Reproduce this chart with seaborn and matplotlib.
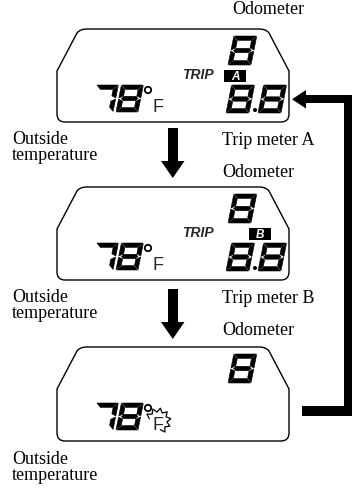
import matplotlib
matplotlib.use('Agg')
import matplotlib.pyplot as plt
import seaborn as sns
import numpy as np
from matplotlib.patches import Polygon, Rectangle, PathPatch, Circle
from matplotlib.path import Path

# diagram content
panel_tops = [29, 187, 347]
panel_bottoms = [122, 280, 441]
trip_letters = ['A', 'B', None]
temp_digits = ['7', '8']
odo_digits = ['8']
trip_digits = ['8', '8']
top_labels = ['Odometer', 'Odometer', 'Odometer']
top_label_y = [10, 172, 330]
trip_labels = ['Trip meter A', 'Trip meter B']
trip_label_y = [140, 298]
temp_label = 'Outside\ntemperature'
temp_label_y = [131, 289, 451]

SEGMENTS = {'8': 'abcdefg', '7': 'abc'}

sns.set_style('white')
fig = plt.figure(figsize=(3.52, 4.94), dpi=100)
ax = fig.add_axes([0, 0, 1, 1])
ax.set_xlim(0, 352)
ax.set_ylim(494, 0)
ax.axis('off')


def draw_digit(ch, x, y, w, h, t=4.4, gap=0.5, slant=0.2):
    hh = t / 2
    m = h / 2
    segs = {
        'a': [(gap, h), (w - gap, h), (w - t - gap, h - t), (t + gap, h - t)],
        'd': [(gap, 0), (w - gap, 0), (w - t - gap, t), (t + gap, t)],
        'g': [(hh + gap, m), (t + gap, m + hh), (w - t - gap, m + hh),
              (w - hh - gap, m), (w - t - gap, m - hh), (t + gap, m - hh)],
        'f': [(0, h - gap), (t, h - t - gap), (t, m + hh + gap), (0, m + gap)],
        'e': [(0, gap), (t, t + gap), (t, m - hh - gap), (0, m - gap)],
    }
    segs['b'] = [(w - px, py) for px, py in segs['f']]
    segs['c'] = [(w - px, py) for px, py in segs['e']]
    for s in SEGMENTS[ch]:
        pts = [(x + px + slant * py, y - py) for px, py in segs[s]]
        ax.add_patch(Polygon(pts, closed=True, fc='black', ec='black', lw=0.4))


def draw_panel(top, bot, left=57, right=289):
    s, r = 42, 8
    verts = [(left, bot - r), (left, top + s), (left + 20, top + 4),
             (left + 23, top), (left + 30, top), (right - 30, top),
             (right - 23, top), (right - 20, top + 4), (right, top + s),
             (right, bot - r), (right, bot), (right - r, bot), (left + r, bot),
             (left, bot), (left, bot - r), (left, bot - r)]
    codes = [Path.MOVETO, Path.LINETO, Path.LINETO, Path.CURVE3, Path.CURVE3,
             Path.LINETO, Path.CURVE3, Path.CURVE3, Path.LINETO, Path.LINETO,
             Path.CURVE3, Path.CURVE3, Path.LINETO, Path.CURVE3, Path.CURVE3,
             Path.CLOSEPOLY]
    ax.add_patch(PathPatch(Path(verts, codes), fc='none', ec='black', lw=1.0))


lcd = dict(family='Liberation Sans', weight='bold', style='italic')
serif = dict(family='Liberation Serif', fontsize=13, color='black')

for i, (top, bot) in enumerate(zip(panel_tops, panel_bottoms)):
    draw_panel(top, bot)
    # outside temperature
    for k, d in enumerate(temp_digits):
        draw_digit(d, 91 + k * 25, top + 83, 22, 27)
    ax.add_patch(Circle((148, top + 61), 3.2, fc='none', ec='black', lw=1.3))
    ax.text(152, top + 83, 'F', fontsize=13, family='Liberation Sans',
            va='baseline', ha='left')
    # odometer
    draw_digit(odo_digits[0], 228, top + 36, 23, 29)
    letter = trip_letters[i]
    if letter is not None:
        ax.text(182, top + 46, 'TRIP', fontsize=10, va='center', ha='left', **lcd)
        bx = 224 if letter == 'A' else 249
        ax.add_patch(Rectangle((bx, top + 41), 22, 12, fc='black', ec='none'))
        ax.text(bx + 11, top + 47.5, letter, fontsize=8.5, color='white',
                va='center', ha='center', **lcd)
        draw_digit(trip_digits[0], 226, top + 84, 23, 28)
        ax.add_patch(Circle((255, top + 81), 2.0, fc='black', ec='none'))
        draw_digit(trip_digits[1], 258, top + 84, 23, 28)
    else:
        # flashing burst around the F
        cx, cy = 158, top + 74
        ang = np.radians(np.linspace(165, -75, 15))
        rad = np.where(np.arange(15) % 2 == 0, 9.0, 13.0)
        ax.plot(cx + rad * np.cos(ang), cy - rad * np.sin(ang), color='black', lw=0.9)

    ax.text(12, temp_label_y[i], temp_label, va='top', ha='left',
            linespacing=0.95, **serif)

for lab, y in zip(top_labels, top_label_y):
    ax.text(232 if y < 50 else 222, y, lab, va='center', ha='left', **serif)
for lab, y in zip(trip_labels, trip_label_y):
    ax.text(222, y, lab, va='center', ha='left', **serif)

# down arrows between panels
for y0, y1, y2 in [(128, 161, 178), (289, 322, 339)]:
    ax.add_patch(Rectangle((168, y0), 9.5, y1 - y0 + 1, fc='black', ec='none'))
    ax.add_patch(Polygon([(161, y1), (184.5, y1), (172.75, y2)], closed=True,
                         fc='black', ec='none'))

# return arrow on the right
ax.add_patch(Rectangle((344, 95), 8, 321, fc='black', ec='none'))
ax.add_patch(Rectangle((302, 406), 50, 10, fc='black', ec='none'))
ax.add_patch(Rectangle((304, 95), 48, 8.5, fc='black', ec='none'))
ax.add_patch(Polygon([(292, 99.25), (306, 90), (306, 108.5)], closed=True,
                     fc='black', ec='none'))

fig.savefig('out.png', dpi=100)
